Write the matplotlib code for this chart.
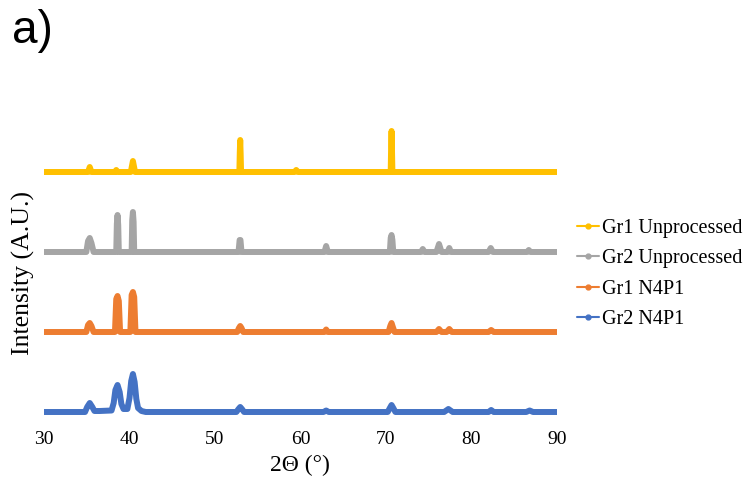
import matplotlib
matplotlib.use("Agg")
import matplotlib.pyplot as plt

# XRD patterns, heights above each pattern's own baseline (A.U.)
gr2_n4p1_x = [30, 34.8, 35.05, 35.35, 35.65, 35.9, 36.5, 37.9, 38.15, 38.35, 38.6, 38.85, 39.05, 39.3,
              39.75, 40.0, 40.2, 40.4, 40.6, 40.8, 41.0, 41.4, 41.9, 52.5, 52.75, 52.95, 53.15, 53.4,
              62.7, 63.0, 63.3, 70.2, 70.45, 70.65, 70.85, 71.1, 76.8, 77.3, 77.8, 82.0, 82.3, 82.6,
              86.4, 86.8, 87.2, 90]
gr2_n4p1_y = [0, 0, 5, 9, 5, 1, 1, 1.5, 9, 22, 27, 20, 8, 3,
              3, 14, 31, 38, 30, 13, 4, 1, 0, 0, 3, 5, 3, 0,
              0, 1.5, 0, 0, 4, 7, 4, 0, 0, 3, 0, 0, 2, 0,
              0, 1.5, 0, 0]

gr1_n4p1_x = [30, 34.95, 35.15, 35.35, 35.55, 35.8, 38.3, 38.45, 38.6, 38.75, 38.9, 40.1, 40.25, 40.4,
              40.55, 40.7, 41.0, 52.6, 52.8, 52.95, 53.1, 53.3, 62.8, 63.0, 63.2, 70.3, 70.5, 70.65,
              70.8, 71.0, 75.9, 76.2, 76.5, 77.1, 77.4, 77.7, 82.0, 82.3, 82.6, 90]
gr1_n4p1_y = [0, 0, 7, 9, 6, 0, 0, 33, 36, 31, 0, 0, 37, 40, 35,
              0, 0, 0, 4, 6, 4, 0, 0, 2.5, 0, 0, 6, 9, 5, 0,
              0, 3, 0, 0, 3, 0, 0, 2, 0, 0]

gr2_unp_x = [30, 34.95, 35.15, 35.35, 35.55, 35.8, 38.45, 38.52, 38.6, 38.68, 38.75, 40.25, 40.32, 40.4,
             40.48, 40.55, 52.75, 52.88, 52.98, 53.1, 62.8, 63.0, 63.2, 70.45, 70.55, 70.65, 70.75, 70.85,
             74.1, 74.3, 74.5, 75.9, 76.2, 76.5, 77.2, 77.4, 77.6, 82.0, 82.25, 82.5, 86.5, 86.7,
             86.9, 90]
gr2_unp_y = [0, 0, 11, 14, 9, 0, 0, 28, 37, 27, 0, 0, 32, 40, 30,
             0, 0, 12, 12, 0, 0, 6, 0, 0, 14, 17, 12, 0,
             0, 3, 0, 0, 8, 0, 0, 4, 0, 0, 4, 0, 0, 2,
             0, 0]

gr1_unp_x = [30, 35.15, 35.35, 35.55, 38.3, 38.45, 38.6, 40.15, 40.4, 40.65, 52.85, 52.9, 52.95, 53.0,
             53.05, 59.3, 59.5, 59.7, 70.55, 70.6, 70.65, 70.7, 70.75, 90]
gr1_unp_y = [0, 0, 5, 0, 0, 2, 0, 0, 11, 0, 0, 20, 32, 18,
             0, 0, 2, 0, 0, 25, 41, 22, 0, 0]

labels = ["Gr1 Unprocessed", "Gr2 Unprocessed", "Gr1 N4P1", "Gr2 N4P1"]
colors = ["#FFC000", "#A5A5A5", "#ED7D31", "#4472C4"]
offsets = [240, 160, 80, 0]
xs = [gr1_unp_x, gr2_unp_x, gr1_n4p1_x, gr2_n4p1_x]
ys = [gr1_unp_y, gr2_unp_y, gr1_n4p1_y, gr2_n4p1_y]

plt.rcParams["font.family"] = ["Liberation Serif", "DejaVu Serif"]

fig = plt.figure(figsize=(7.53, 4.93), dpi=100)
ax = fig.add_axes([44 / 753, 73 / 493, 513 / 753, 320 / 493])

for x, y, off, c, lab in zip(xs, ys, offsets, colors, labels):
    ax.plot(x, [v + off for v in y], color=c, lw=4.3,
            solid_capstyle="round", solid_joinstyle="round", label=lab)

ax.set_xlim(30, 90)
ax.set_ylim(-8, 312)
ax.set_xticks([30, 40, 50, 60, 70, 80, 90])
ax.set_yticks([])
ax.tick_params(axis="x", length=0, labelsize=14, pad=8)
for s in ax.spines.values():
    s.set_visible(False)

fig.text(300 / 753, 1 - 465 / 493, "2\u0398 (\u00b0)", fontsize=17, ha="center", va="center")
fig.text(23 / 753, 1 - 273 / 493, "Intensity (A.U.)", fontsize=18.5, rotation=90,
         ha="center", va="center")
fig.text(12 / 753, 1 - 43 / 493, "a)", fontsize=33, family="Liberation Sans", va="baseline")

leg = fig.legend(loc="center left", bbox_to_anchor=(559 / 753, 1 - 274 / 493), frameon=False,
                 fontsize=14.5, handlelength=1.1, handletextpad=0.15, labelspacing=0.55)
for ln in leg.get_lines():
    ln.set_linewidth(1.5)
    ln.set_marker("o")
    ln.set_markersize(3.5)

fig.savefig("out.png", dpi=100)
